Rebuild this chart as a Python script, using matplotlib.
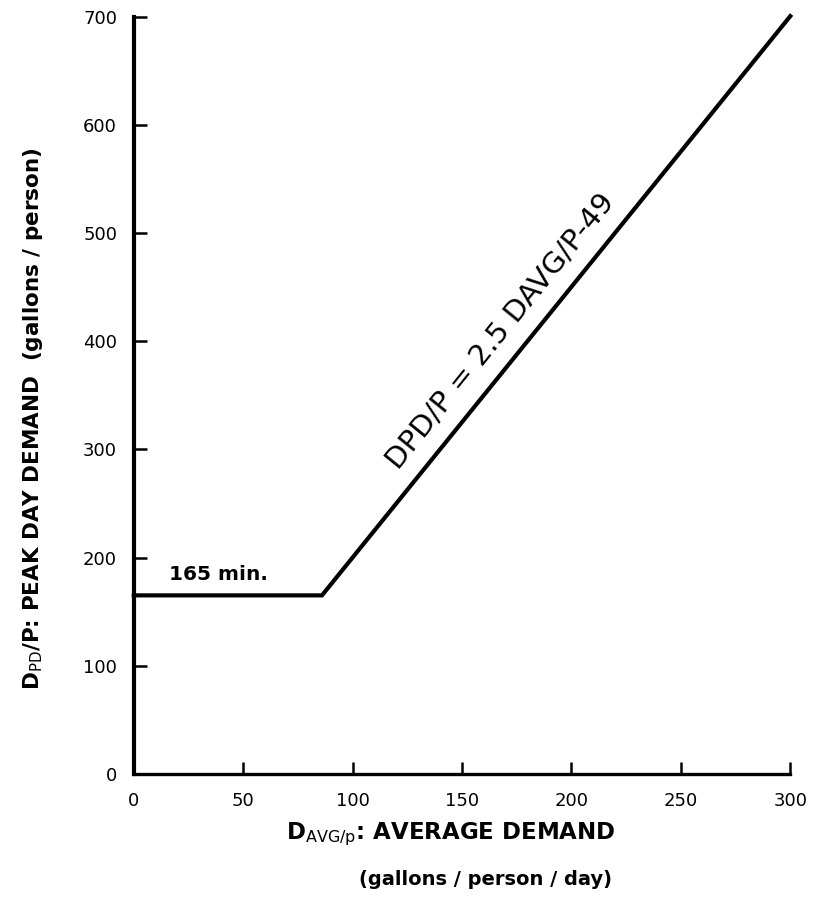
import matplotlib
matplotlib.use("Agg")
import matplotlib.pyplot as plt

# peak-day demand design curve: 165 floor, then 2.5*avg - 49
avg_demand = [0, 86, 300]
peak_demand = [165, 165, 701]

x_ticks = [0, 50, 100, 150, 200, 250, 300]
y_ticks = [0, 100, 200, 300, 400, 500, 600, 700]

plt.rcParams["font.family"] = "DejaVu Sans"

fig = plt.figure(figsize=(8.31, 9.07), dpi=100)
ax = fig.add_axes([0.161, 0.147, 0.790, 0.834])

ax.plot(avg_demand, peak_demand, color="black", lw=3.0,
        solid_joinstyle="miter", clip_on=False)

ax.set_xlim(0, 300)
ax.set_ylim(0, 700)
ax.set_xticks(x_ticks)
ax.set_yticks(y_ticks)
ax.set_xticklabels([str(v) for v in x_ticks])
ax.set_yticklabels([str(v) for v in y_ticks])

for side in ("top", "right"):
    ax.spines[side].set_visible(False)
ax.spines["left"].set_linewidth(3.0)
ax.spines["bottom"].set_linewidth(2.4)

ax.tick_params(direction="in", length=9, width=1.8, labelsize=13, colors="black")
ax.tick_params(axis="y", pad=12)
ax.tick_params(axis="x", pad=13)

ax.set_ylabel(r"D$_{\rm PD}$/P: PEAK DAY DEMAND  (gallons / person)",
              fontsize=15.5, fontweight="bold")
ax.yaxis.set_label_coords(-0.135, 0.47)

fig.text(0.542, 0.080, r"D$_{\rm AVG/p}$: AVERAGE DEMAND",
         ha="center", va="center", fontsize=16.5, fontweight="bold")
fig.text(0.584, 0.030, "(gallons / person / day)",
         ha="center", va="center", fontsize=14, fontweight="bold")

ax.text(16, 184, "165 min.", fontsize=14.5, fontweight="bold",
        ha="left", va="center")

ax.text(0.558, 0.585, "DPD/P = 2.5 DAVG/P-49", transform=ax.transAxes,
        rotation=51, rotation_mode="anchor", ha="center", va="center",
        fontsize=21)

fig.savefig("out.png", dpi=100)
